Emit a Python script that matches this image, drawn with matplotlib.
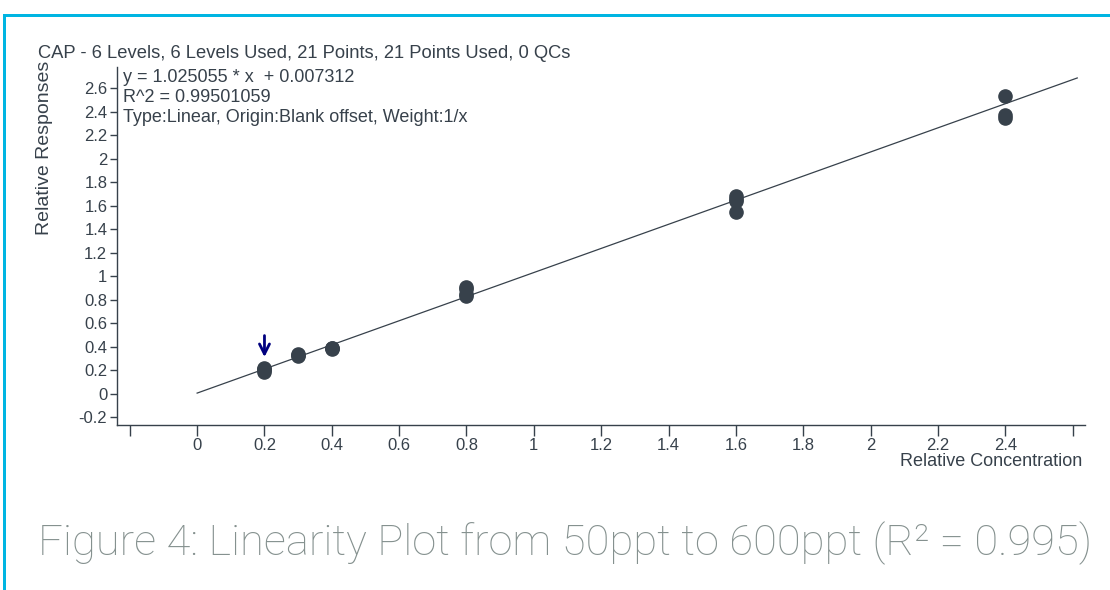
import matplotlib
matplotlib.use("Agg")
import matplotlib.pyplot as plt
from matplotlib.patches import Rectangle
import numpy as np

# ---- data ----
conc = [0.2, 0.2, 0.2, 0.2, 0.3, 0.3, 0.3, 0.4, 0.4, 0.4,
        0.8, 0.8, 0.8, 0.8, 1.6, 1.6, 1.6, 1.6, 2.4, 2.4, 2.4]
resp = [0.19, 0.20, 0.21, 0.22, 0.32, 0.33, 0.34, 0.38, 0.39, 0.39,
        0.83, 0.85, 0.89, 0.91, 1.55, 1.64, 1.66, 1.68, 2.35, 2.37, 2.53]
slope = 1.025055
intercept = 0.007312
fit_x = [0.0, 2.614]
yticks = [-0.2, 0, 0.2, 0.4, 0.6, 0.8, 1, 1.2, 1.4, 1.6, 1.8, 2, 2.2, 2.4, 2.6]
xticks = [-0.2, 0, 0.2, 0.4, 0.6, 0.8, 1, 1.2, 1.4, 1.6, 1.8, 2, 2.2, 2.4, 2.6]
xticklabels = ["", "0", "0.2", "0.4", "0.6", "0.8", "1", "1.2", "1.4", "1.6",
               "1.8", "2", "2.2", "2.4", ""]
yticklabels = ["-0.2", "0", "0.2", "0.4", "0.6", "0.8", "1", "1.2", "1.4", "1.6",
               "1.8", "2", "2.2", "2.4", "2.6"]
flag_x = 0.2

title = "CAP - 6 Levels, 6 Levels Used, 21 Points, 21 Points Used, 0 QCs"
eq_lines = ["y = 1.025055 * x  + 0.007312", "R^2 = 0.99501059",
            "Type:Linear, Origin:Blank offset, Weight:1/x"]
caption = "Figure 4: Linearity Plot from 50ppt to 600ppt (R\u00b2 = 0.995)"

# ---- style ----
dark = "#37414B"
cyan = "#00B5E2"
plt.rcParams['font.family'] = ['Liberation Sans', 'DejaVu Sans']

fig = plt.figure(figsize=(11.1, 5.9), dpi=100)
fig.patch.set_facecolor("white")

# border
fig.add_artist(Rectangle((3/1110, 0), 3/1110, 1 - 14/590, transform=fig.transFigure,
                         color=cyan, lw=0))
fig.add_artist(Rectangle((3/1110, 1 - 17/590), 1, 3/590, transform=fig.transFigure,
                         color=cyan, lw=0))

ax = fig.add_axes([117/1110, 1 - 425/590, (1085 - 117)/1110, (425 - 67)/590])
ax.set_xlim(-0.238, 2.637)
ax.set_ylim(-0.264, 2.78)
for s in ["top", "right"]:
    ax.spines[s].set_visible(False)
for s in ["left", "bottom"]:
    ax.spines[s].set_color(dark)
    ax.spines[s].set_linewidth(1.0)

fx = np.array(fit_x)
ax.plot(fx, slope * fx + intercept, color=dark, lw=0.9, zorder=2)
ax.plot(conc, resp, 'o', color=dark, ms=9.5, mec=dark, zorder=3)

ax.annotate("", xy=(flag_x, 0.29), xytext=(flag_x, 0.52),
            arrowprops=dict(arrowstyle="->", color="#00007F", lw=2,
                            mutation_scale=18), zorder=4)

ax.set_xticks(xticks)
ax.set_xticklabels(xticklabels)
ax.set_yticks(yticks)
ax.set_yticklabels(yticklabels)
ax.tick_params(axis='x', length=8, width=1, color=dark, labelcolor=dark,
               labelsize=12, pad=1)
ax.tick_params(axis='y', length=5, width=1, color=dark, labelcolor=dark,
               labelsize=12, pad=2)

fig.text(38/1110, 1 - 54/590, title, fontsize=13.2, color=dark, va='center', ha='left')
for i, line in enumerate(eq_lines):
    fig.text(123/1110, 1 - (77 + 20.5 * i)/590, line, fontsize=13, color=dark,
             va='center', ha='left')

fig.text(45/1110, 1 - 148/590, "Relative Responses", fontsize=14, color=dark,
         rotation=90, va='center', ha='center')
fig.text(1082/1110, 1 - 462/590, "Relative Concentration", fontsize=13, color=dark,
         va='center', ha='right')

fig.text(38/1110, 1 - 543/590, caption, fontsize=31.3, color="#85918F",
         family=['Roboto', 'DejaVu Sans'], fontweight='light', va='center', ha='left')

fig.savefig("out.png", dpi=100, facecolor="white")
